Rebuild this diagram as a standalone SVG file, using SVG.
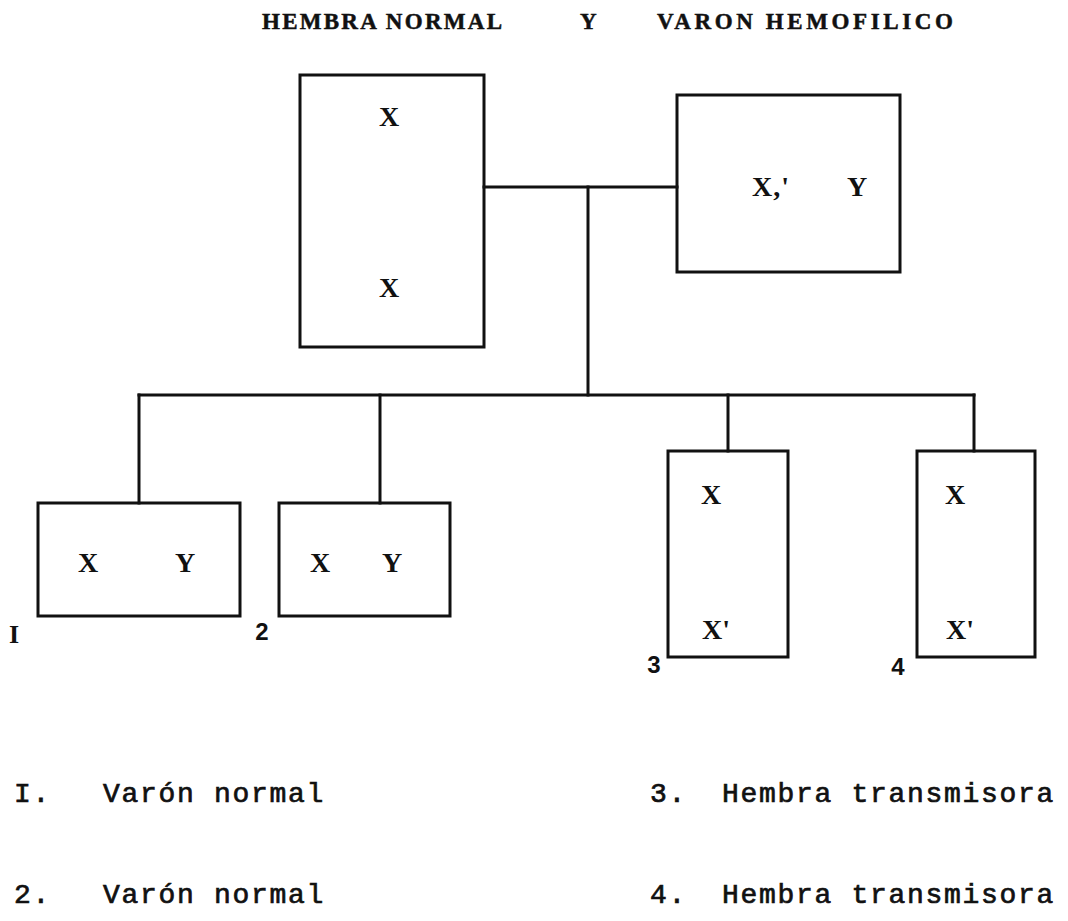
<svg xmlns="http://www.w3.org/2000/svg" width="1068" height="921" viewBox="0 0 1068 921">
  <style>
    .box { fill: none; stroke: #111; stroke-width: 3; stroke-linejoin: miter; }
    .wire { fill: none; stroke: #111; stroke-width: 3; stroke-linecap: square; }
    .title { font-family: "Liberation Serif", "Times New Roman", serif; font-weight: bold; font-size: 23px; fill: #111; stroke: #111; stroke-width: 0.5; }
    .gene { font-family: "Liberation Serif", "Times New Roman", serif; font-weight: bold; font-size: 28px; fill: #111; text-anchor: middle; }
    .gene-s { font-family: "Liberation Serif", "Times New Roman", serif; font-weight: bold; font-size: 28px; fill: #111; }
    .num { font-family: "Liberation Sans", Arial, sans-serif; font-weight: bold; font-size: 24px; fill: #111; text-anchor: middle; }
    .numI { font-family: "Liberation Serif", "Times New Roman", serif; font-weight: bold; font-size: 26px; fill: #111; text-anchor: middle; }
    .legend { font-family: "Liberation Mono", "Courier New", monospace; font-size: 28px; letter-spacing: 1.7px; fill: #111; stroke: #111; stroke-width: 0.7; }
  </style>
  <rect width="1068" height="921" fill="#fff"/>

  <!-- heading -->
  <g id="title">
    <text class="title" x="262" y="29" textLength="240" lengthAdjust="spacing">HEMBRA NORMAL</text>
    <text class="title" x="580" y="29">Y</text>
    <text class="title" x="657" y="29" textLength="296" lengthAdjust="spacing">VARON HEMOFILICO</text>
  </g>

  <!-- lines joining parents and children -->
  <g id="connectors">
    <line class="wire" x1="484" y1="187" x2="677" y2="187"/>
    <line class="wire" x1="588" y1="187" x2="588" y2="395"/>
    <line class="wire" x1="139" y1="395" x2="974" y2="395"/>
    <line class="wire" x1="139" y1="395" x2="139" y2="503"/>
    <line class="wire" x1="380" y1="395" x2="380" y2="503"/>
    <line class="wire" x1="728" y1="395" x2="728" y2="451"/>
    <line class="wire" x1="974" y1="395" x2="974" y2="451"/>
  </g>

  <!-- mother -->
  <g id="mother">
    <rect class="box" x="300" y="75" width="184" height="272"/>
    <text class="gene" x="389" y="126">X</text>
    <text class="gene" x="389" y="297">X</text>
  </g>

  <!-- father -->
  <g id="father">
    <rect class="box" x="677" y="95" width="223" height="177"/>
    <text class="gene-s" x="752" y="196" letter-spacing="1">X,'</text>
    <text class="gene" x="857" y="196">Y</text>
  </g>

  <!-- child 1 -->
  <g id="child1">
    <rect class="box" x="38" y="503" width="202" height="113"/>
    <text class="gene" x="88" y="572">X</text>
    <text class="gene" x="185" y="572">Y</text>
    <text class="numI" x="14" y="643">I</text>
  </g>

  <!-- child 2 -->
  <g id="child2">
    <rect class="box" x="279" y="503" width="171" height="113"/>
    <text class="gene" x="320" y="572">X</text>
    <text class="gene" x="392" y="572">Y</text>
    <text class="num" x="262" y="640">2</text>
  </g>

  <!-- child 3 -->
  <g id="child3">
    <rect class="box" x="668" y="451" width="120" height="206"/>
    <text class="gene" x="711" y="504">X</text>
    <text class="gene-s" x="702" y="639">X'</text>
    <text class="num" x="654" y="673">3</text>
  </g>

  <!-- child 4 -->
  <g id="child4">
    <rect class="box" x="917" y="451" width="118" height="206"/>
    <text class="gene" x="955" y="504">X</text>
    <text class="gene-s" x="946" y="639">X'</text>
    <text class="num" x="898" y="675">4</text>
  </g>

  <!-- key -->
  <g id="legend">
    <text class="legend" x="14" y="802">I.</text>
    <text class="legend" x="103" y="802">Varón normal</text>
    <text class="legend" x="650" y="802">3.</text>
    <text class="legend" x="722" y="802">Hembra transmisora</text>
    <text class="legend" x="14" y="903">2.</text>
    <text class="legend" x="103" y="903">Varón normal</text>
    <text class="legend" x="650" y="903">4.</text>
    <text class="legend" x="722" y="903">Hembra transmisora</text>
  </g>
</svg>
